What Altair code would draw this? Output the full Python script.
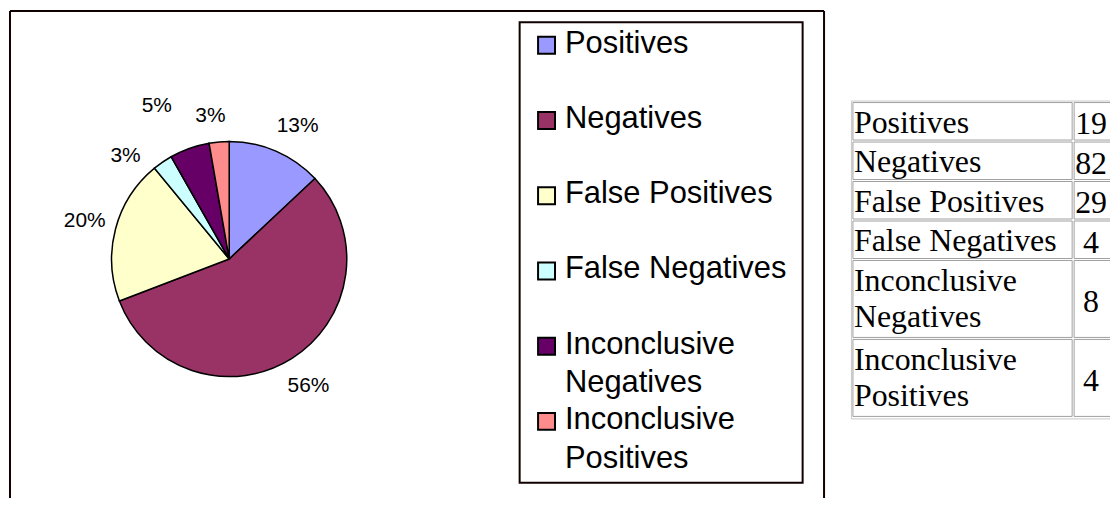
import json
import altair as alt
import pandas as pd

# ---------------- data ----------------
categories = ["Positives", "Negatives", "False Positives", "False Negatives",
              "Inconclusive Negatives", "Inconclusive Positives"]
counts = [19, 82, 29, 4, 8, 4]
legend_labels = ["Positives", "Negatives", "False Positives", "False Negatives",
                 "Inconclusive\nNegatives", "Inconclusive\nPositives"]
table_labels = ["Positives", "Negatives", "False Positives", "False Negatives",
                "Inconclusive\nNegatives", "Inconclusive\nPositives"]
table_lines = [1, 1, 1, 1, 2, 2]
slice_colors = ["#9999FF", "#993366", "#FFFFCC", "#CCFFFF", "#660066", "#FF8C8C"]

df = pd.DataFrame({
    "idx": list(range(len(categories))),
    "category": categories,
    "count": counts,
    "legend": legend_labels,
    "tlabel": table_labels,
    "lines": table_lines,
})

SANS = "Liberation Sans"
SERIF = "Liberation Serif"
INK = "#100000"
W_LEFT, H = 817, 489
PIE_X, PIE_Y, PIE_R = 220, 249, 118

base = alt.Chart(df)
one = alt.Data(values=[{"k": 0}])
color_scale = alt.Scale(domain=categories, range=slice_colors)

# ---------------- frame (left, top, right sides) ----------------
frame_left = alt.Chart(one).mark_rule(stroke=INK, strokeWidth=2).encode(
    x=alt.value(0), y=alt.value(0), y2=alt.value(H))
frame_top = alt.Chart(one).mark_rule(stroke=INK, strokeWidth=2).encode(
    x=alt.value(0), x2=alt.value(W_LEFT), y=alt.value(0))
frame_right = alt.Chart(one).mark_rule(stroke=INK, strokeWidth=2).encode(
    x=alt.value(W_LEFT), y=alt.value(0), y2=alt.value(H))

# ---------------- pie ----------------
pie = base.mark_arc(outerRadius=PIE_R, stroke="#000000", strokeWidth=1.5).encode(
    theta=alt.Theta("count:Q", stack=True),
    order=alt.Order("idx:Q", sort="ascending"),
    color=alt.Color("category:N", scale=color_scale, legend=None),
    x=alt.value(PIE_X),
    y=alt.value(PIE_Y),
)


def pct_labels(cats, radius, dx=0, dy=0):
    cond = json.dumps(cats)
    return base.transform_joinaggregate(total="sum(count)").transform_calculate(
        lab=f"indexof({cond}, datum.category) >= 0 ? format(datum.count / datum.total, '.0%') : ''"
    ).mark_text(radius=radius, dx=dx, dy=dy, font=SANS, fontSize=21, color="#000000").encode(
        theta=alt.Theta("count:Q", stack=True),
        order=alt.Order("idx:Q", sort="ascending"),
        text="lab:N",
        x=alt.value(PIE_X),
        y=alt.value(PIE_Y),
    )


lab_pos = pct_labels(["Positives"], 150, dx=9, dy=4)
lab_main = pct_labels(["Negatives", "False Positives"], 150)
lab_fn = pct_labels(["False Negatives"], 150, dx=-19, dy=20)
lab_in = pct_labels(["Inconclusive Negatives"], 150, dx=-22, dy=-12)
lab_ip = pct_labels(["Inconclusive Positives"], 150, dx=-6, dy=6)

# ---------------- legend ----------------
legend_y = alt.Y("category:N", sort=categories,
                 scale=alt.Scale(type="point", domain=categories, range=[34.5, 412.0], padding=0),
                 axis=None)

legend_box = alt.Chart(one).mark_rect(filled=False, stroke=INK, strokeWidth=2).encode(
    x=alt.value(511.5), x2=alt.value(795.5), y=alt.value(11.5), y2=alt.value(473.5)
)
legend_sym = base.mark_square(size=289, filled=True, opacity=1, stroke="#000000", strokeWidth=2).encode(
    x=alt.value(538.5),
    y=legend_y,
    color=alt.Color("category:N", scale=color_scale, legend=None),
)
legend_txt = base.mark_text(align="left", baseline="alphabetic", dy=7.5, lineBreak="\n",
                            lineHeight=39, font=SANS, fontSize=31, color="#000000").encode(
    x=alt.value(557),
    y=legend_y,
    text="legend:N",
)

left = alt.layer(
    frame_left, frame_top, frame_right,
    legend_box, legend_sym, legend_txt, pie, lab_pos, lab_main, lab_fn, lab_in, lab_ip
).properties(width=W_LEFT, height=H)

# ---------------- table ----------------
total_lines = sum(table_lines)
ty = alt.Scale(domain=[0, total_lines], range=[92, 409], nice=False, zero=False)
tx = alt.Scale(domain=[0, 1, 2], range=[8, 230, 290], nice=False, zero=False)

tbase = alt.Chart(df).transform_window(
    cum="sum(lines)", sort=[alt.SortField("idx")], frame=[None, 0]
).transform_calculate(
    start="datum.cum - datum.lines", mid="datum.cum - datum.lines / 2"
)

tframe = alt.Chart(one).mark_rect(filled=False, stroke="#c8c8c8", strokeWidth=1, clip=True,
                                  xOffset=-1.5, yOffset=-1.5, y2Offset=0.5).encode(
    x=alt.XDatum(0, type="quantitative", scale=tx, axis=None),
    x2=alt.X2Datum(2),
    y=alt.YDatum(0, type="quantitative", scale=ty, axis=None),
    y2=alt.Y2Datum(total_lines),
)
cells1 = tbase.mark_rect(fill="#ffffff", stroke="#a0a0a0", strokeWidth=1, clip=True,
                         x2Offset=-2, y2Offset=-2).encode(
    x=alt.XDatum(0, type="quantitative", scale=tx, axis=None),
    x2=alt.X2Datum(1),
    y=alt.Y("start:Q", scale=ty, axis=None),
    y2="cum:Q",
)
cells2 = tbase.mark_rect(fill="#ffffff", stroke="#a0a0a0", strokeWidth=1, clip=True,
                         x2Offset=-2, y2Offset=-2).encode(
    x=alt.XDatum(1, type="quantitative", scale=tx, axis=None),
    x2=alt.X2Datum(2),
    y=alt.Y("start:Q", scale=ty, axis=None),
    y2="cum:Q",
)
text1 = tbase.mark_text(align="left", baseline="alphabetic", lineBreak="\n", lineHeight=36,
                        font=SERIF, fontSize=32, color="#000000", dy=30.5).encode(
    x=alt.value(9),
    y=alt.Y("start:Q", scale=ty, axis=None),
    text="tlabel:N",
)
text2 = tbase.mark_text(align="center", baseline="alphabetic", font=SERIF, fontSize=32,
                        color="#000000", dy=12).encode(
    x=alt.value(247),
    y=alt.Y("mid:Q", scale=ty, axis=None),
    text="count:Q",
)

right = alt.layer(tframe, cells1, cells2, text1, text2).properties(width=266, height=H)

chart = alt.hconcat(left, right, spacing=18).properties(
    padding=0, background="#ffffff"
).configure_view(stroke="transparent")

chart.save("out.html", embed_options={"renderer": "svg", "actions": False})
